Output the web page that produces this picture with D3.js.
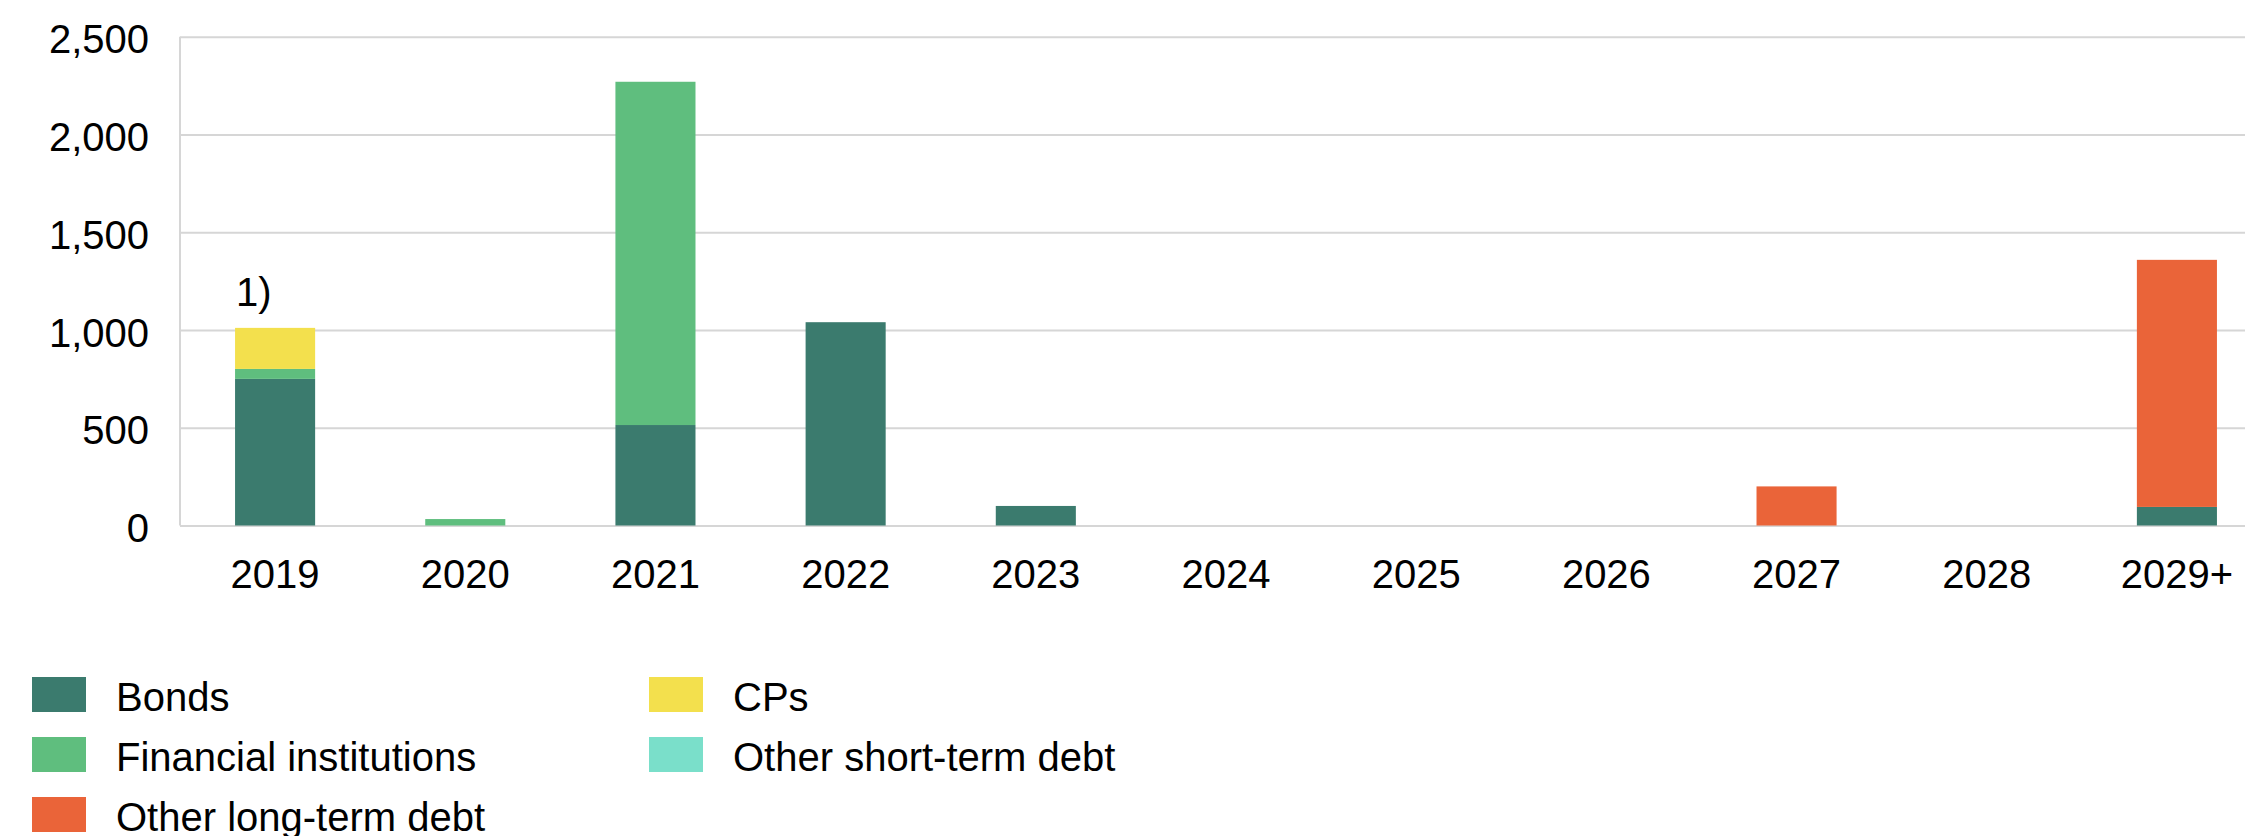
<!DOCTYPE html>
<html>
<head>
<meta charset="utf-8">
<script src="https://cdn.jsdelivr.net/npm/d3@7"></script>
<style>
  html, body { margin: 0; padding: 0; background: #fff; }
  svg { display: block; font-family: "Liberation Sans", Arial, sans-serif; }
</style>
</head>
<body>
<svg id="chart" width="2245" height="836"></svg>
<script>
// ---- data ----
const categories = ["2019", "2020", "2021", "2022", "2023", "2024", "2025", "2026", "2027", "2028", "2029+"];
const seriesNames = ["Bonds", "Financial institutions", "CPs", "Other short-term debt", "Other long-term debt"];
const bonds = [750, 0, 514, 1040, 100, 0, 0, 0, 0, 0, 95];
const financialInstitutions = [51, 33, 1756, 0, 0, 0, 0, 0, 0, 0, 0];
const cps = [210, 0, 0, 0, 0, 0, 0, 0, 0, 0, 0];
const otherShortTermDebt = [0, 0, 0, 0, 0, 0, 0, 0, 0, 0, 0];
const otherLongTermDebt = [0, 0, 0, 0, 0, 0, 0, 0, 200, 0, 1264];
const yTicks = [0, 500, 1000, 1500, 2000, 2500];
const footnote = "1)";
const footnoteCategory = "2019";

const seriesValues = [bonds, financialInstitutions, cps, otherShortTermDebt, otherLongTermDebt];
const colors = ["#3b7b6e", "#5fbe7e", "#f3e04d", "#7adfca", "#ea6439"];

// table for d3.stack
const table = categories.map((c, i) => {
  const row = { category: c };
  seriesNames.forEach((s, k) => row[s] = seriesValues[k][i]);
  return row;
});

const svg = d3.select("#chart");
const plotLeft = 180, plotRight = 2272, plotTop = 36.8, plotBottom = 525.5;

const x = d3.scaleBand().domain(categories).range([plotLeft, plotRight]).paddingInner(0.579).paddingOuter(0.2895);
const y = d3.scaleLinear().domain([0, 2500]).range([plotBottom, plotTop]);

// gridlines
const grid = svg.append("g").attr("transform", `translate(${plotLeft},0)`)
  .call(d3.axisLeft(y).tickValues(yTicks).tickSize(-(plotRight - plotLeft)).tickFormat(""));
grid.select(".domain").remove();
grid.selectAll(".tick line").attr("stroke", "#d6d6d6").attr("stroke-width", 2);

// left axis line
svg.append("line").attr("x1", plotLeft).attr("x2", plotLeft).attr("y1", y(2500)).attr("y2", y(0))
  .attr("stroke", "#d6d6d6").attr("stroke-width", 2);

// y labels
const yAxis = svg.append("g").attr("transform", `translate(149,0)`)
  .call(d3.axisLeft(y).tickValues(yTicks).tickSize(0).tickPadding(0).tickFormat(d3.format(",")));
yAxis.select(".domain").remove();
yAxis.selectAll("text").attr("font-size", 40).attr("fill", "#000")
  .attr("font-family", "'Liberation Sans', Arial, sans-serif").attr("dy", "0.4em");

// stacked bars
const stack = d3.stack().keys(seriesNames)(table);
svg.append("g").selectAll("g").data(stack).join("g")
  .attr("fill", (d, i) => colors[i])
  .selectAll("rect").data(d => d).join("rect")
  .attr("x", d => x(d.data.category))
  .attr("width", x.bandwidth())
  .attr("y", d => y(d[1]))
  .attr("height", d => y(d[0]) - y(d[1]));

// x labels
const xAxis = svg.append("g").attr("transform", `translate(0,${plotBottom})`)
  .call(d3.axisBottom(x).tickSize(0).tickPadding(0));
xAxis.select(".domain").remove();
xAxis.selectAll("text").attr("font-size", 40).attr("fill", "#000")
  .attr("font-family", "'Liberation Sans', Arial, sans-serif").attr("dy", "62px");

// footnote marker
const fi = categories.indexOf(footnoteCategory);
const totalFoot = seriesValues.reduce((s, arr) => s + arr[fi], 0);
svg.append("text").attr("x", x(footnoteCategory) + 1).attr("y", y(totalFoot) - 22)
  .attr("font-size", 40).attr("fill", "#000").text(footnote);

// legend
const legendPos = [[32, 677], [32, 737], [32, 797], [649, 677], [649, 737]];
const legendOrder = [0, 1, 4, 2, 3];
const lg = svg.append("g");
legendOrder.forEach((k, j) => {
  const [lx, ly] = legendPos[j];
  lg.append("rect").attr("x", lx).attr("y", ly).attr("width", 54).attr("height", 35).attr("fill", colors[k]);
  lg.append("text").attr("x", lx + 84).attr("y", ly + 34).attr("font-size", 40).attr("fill", "#000").text(seriesNames[k]);
});
</script>
</body>
</html>
